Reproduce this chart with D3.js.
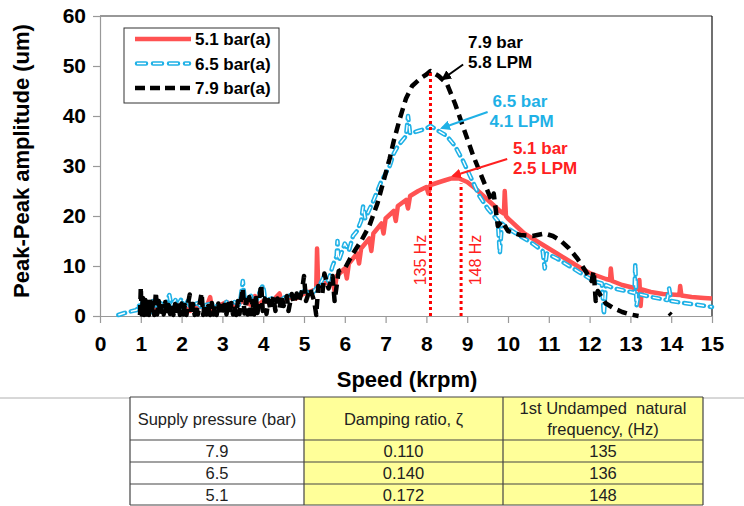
<!DOCTYPE html>
<html>
<head>
<meta charset="utf-8">
<script src="https://cdn.jsdelivr.net/npm/d3@7"></script>
<style>
  body { margin: 0; background: #fff; }
  svg { display: block; font-family: Arial, "Liberation Sans", sans-serif; }
</style>
</head>
<body>
<div class="chart"></div>
<script>
// speed (krpm), peak-peak amplitude (um)
var red51 = [[1.0,0.5],[1.05,3.2],[1.1,1.0],[1.2,2.5],[1.3,0.8],[1.4,2.8],[1.5,1.2],[1.6,2.0],[1.8,1.0],[2.0,2.2],[2.2,1.0],[2.4,2.0],[2.6,1.5],[2.7,3.8],[2.75,1.2],[2.9,2.0],[3.1,2.8],[3.3,2.0],[3.5,3.0],[3.7,2.2],[3.8,4.0],[3.85,2.0],[4.0,3.0],[4.2,2.8],[4.4,4.5],[4.45,2.8],[4.6,3.8],[4.8,3.5],[5.0,4.5],[5.2,5.0],[5.3,5.5],[5.32,13.5],[5.35,5.5],[5.5,6.5],[5.7,7.0],[5.75,5.0],[5.8,8.0],[6.0,9.5],[6.05,7.5],[6.1,10.5],[6.3,12.5],[6.35,10.5],[6.4,13.5],[6.6,15.5],[6.65,13.0],[6.7,16.5],[6.9,18.5],[6.95,16.5],[7.0,19.5],[7.2,21.0],[7.25,19.0],[7.3,22.0],[7.5,23.2],[7.55,21.5],[7.6,24.0],[7.8,25.0],[8.0,25.8],[8.05,24.5],[8.1,26.2],[8.4,27.0],[8.6,27.5],[8.8,27.5],[9.0,26.8],[9.2,25.5],[9.4,24.0],[9.6,22.5],[9.8,21.0],[9.9,20.5],[9.92,25.0],[9.95,20.0],[10.0,19.5],[10.2,18.0],[10.4,16.5],[10.6,15.5],[10.8,14.5],[11.0,13.5],[11.2,12.5],[11.4,11.5],[11.6,10.5],[11.8,9.5],[12.0,8.6],[12.2,8.0],[12.4,7.4],[12.5,7.2],[12.52,9.5],[12.55,7.0],[12.8,6.2],[13.0,5.8],[13.2,5.4],[13.22,7.2],[13.25,2.0],[13.28,5.3],[13.5,4.8],[13.8,4.4],[14.0,4.3],[14.2,4.2],[14.22,6.0],[14.25,4.1],[14.5,3.8],[14.8,3.6],[15.0,3.5]];

var blue65 = [[0.45,0.2],[0.6,0.6],[0.75,0.9],[0.9,1.2],[0.95,2.3],[1.0,1.0],[1.05,3.2],[1.1,1.2],[1.2,2.4],[1.25,0.8],[1.3,3.0],[1.4,1.5],[1.5,2.5],[1.6,1.2],[1.65,3.4],[1.7,4.2],[1.75,2.0],[1.85,3.2],[1.9,2.0],[2.0,3.5],[2.05,1.5],[2.15,3.0],[2.2,2.0],[2.4,2.6],[2.5,1.6],[2.6,2.2],[2.8,2.6],[2.9,1.5],[3.0,2.0],[3.1,2.8],[3.2,1.8],[3.3,2.8],[3.4,2.2],[3.45,3.8],[3.5,7.0],[3.55,3.0],[3.7,4.0],[3.8,2.5],[3.95,5.5],[4.0,6.2],[4.05,3.0],[4.2,3.5],[4.4,3.0],[4.6,4.2],[4.8,3.8],[5.0,5.0],[5.2,4.5],[5.4,6.5],[5.5,8.0],[5.6,7.0],[5.7,10.0],[5.8,12.0],[5.82,15.0],[5.85,11.0],[6.0,14.5],[6.1,13.0],[6.2,16.0],[6.3,17.0],[6.4,19.0],[6.45,22.0],[6.5,19.5],[6.7,23.0],[6.9,27.0],[7.0,28.5],[7.1,30.0],[7.2,32.5],[7.3,34.0],[7.4,35.0],[7.5,36.0],[7.55,40.0],[7.6,36.5],[7.8,37.0],[8.0,37.5],[8.1,38.0],[8.3,37.0],[8.5,36.0],[8.7,34.0],[8.9,31.0],[9.1,27.5],[9.3,24.0],[9.5,21.5],[9.75,19.0],[9.8,12.5],[9.85,18.5],[10.0,17.5],[10.3,16.0],[10.6,14.5],[10.85,13.0],[10.9,9.5],[10.95,12.5],[11.2,11.5],[11.5,10.0],[11.8,8.5],[12.1,7.0],[12.3,6.5],[12.35,0.2],[12.4,6.2],[12.6,5.5],[12.9,5.0],[13.1,4.6],[13.12,10.5],[13.15,2.0],[13.2,4.4],[13.5,3.8],[13.9,3.2],[13.95,5.5],[14.0,3.0],[14.3,2.6],[14.6,2.3],[15.0,1.8]];

var black79 = [[0.98,0.2],[1.0,5.8],[1.02,0.3],[1.05,3.6],[1.08,0.2],[1.11,3.2],[1.14,0.3],[1.17,2.8],[1.2,0.2],[1.23,3.3],[1.26,0.4],[1.3,2.6],[1.33,0.2],[1.37,4.8],[1.4,0.3],[1.44,3.0],[1.48,0.2],[1.52,2.4],[1.56,0.3],[1.6,2.8],[1.64,0.2],[1.68,2.2],[1.72,0.4],[1.76,2.6],[1.8,0.2],[1.84,2.4],[1.88,0.3],[1.92,2.9],[1.96,0.2],[2.0,2.5],[2.04,0.3],[2.08,2.2],[2.12,0.2],[2.16,2.6],[2.2,4.3],[2.24,0.3],[2.28,2.4],[2.32,0.2],[2.36,2.2],[2.4,0.3],[2.45,2.8],[2.49,4.6],[2.53,0.2],[2.57,2.4],[2.61,0.3],[2.65,2.0],[2.7,0.2],[2.74,2.6],[2.78,0.3],[2.82,2.2],[2.86,0.2],[2.9,2.5],[2.94,0.3],[2.98,2.0],[3.02,0.2],[3.06,2.8],[3.1,0.3],[3.14,2.4],[3.18,0.2],[3.22,2.6],[3.26,0.3],[3.3,2.2],[3.34,0.2],[3.38,3.0],[3.42,0.4],[3.46,3.4],[3.5,5.6],[3.54,0.5],[3.58,3.2],[3.62,0.3],[3.66,3.8],[3.7,0.4],[3.74,3.0],[3.78,0.3],[3.82,3.6],[3.86,0.6],[3.9,3.2],[3.95,6.3],[3.99,1.0],[4.04,3.5],[4.08,0.4],[4.13,3.2],[4.18,1.2],[4.25,3.8],[4.3,1.0],[4.35,3.5],[4.4,1.5],[4.45,4.2],[4.5,2.0],[4.58,4.0],[4.62,1.0],[4.7,4.4],[4.75,2.5],[4.82,4.5],[4.88,3.0],[4.95,5.0],[5.0,8.0],[5.05,3.0],[5.15,5.5],[5.25,3.0],[5.3,0.2],[5.35,6.0],[5.45,4.5],[5.5,8.5],[5.6,5.5],[5.7,8.0],[5.75,3.0],[5.85,9.0],[6.0,9.5],[6.2,12.5],[6.4,15.0],[6.6,18.0],[6.8,22.5],[6.95,27.0],[7.1,31.5],[7.2,35.0],[7.35,39.5],[7.5,43.5],[7.65,46.0],[7.85,47.5],[8.0,48.3],[8.1,49.0],[8.3,48.0],[8.5,46.5],[8.7,42.5],[8.85,39.0],[9.0,35.5],[9.15,32.0],[9.3,29.0],[9.45,26.0],[9.6,23.0],[9.65,24.5],[9.75,18.0],[9.85,19.0],[10.0,17.0],[10.3,16.2],[10.6,16.0],[10.9,16.5],[11.1,16.0],[11.3,15.0],[11.5,13.5],[11.7,11.5],[11.9,9.0],[12.05,7.0],[12.1,9.0],[12.15,3.0],[12.2,5.0],[12.4,2.5],[12.6,1.5],[12.8,0.8],[13.0,0.3],[13.2,0.0],[13.6,null],[13.95,0.6],[14.0,0.2]];

var xTicks = d3.range(0, 16, 1);
var yTicks = [0, 10, 20, 30, 40, 50, 60];
var legendNames = ["5.1 bar(a)", "6.5 bar(a)", "7.9 bar(a)"];

// natural frequency markers: speed, top of the dotted line, label
var freqLines = [[8.1, 48.8, "135 Hz"], [8.85, 26.5, "148 Hz"]];

// annotation text: series, lines, text anchor (data), arrow from, arrow to
var notes = [
  {color: "#000000", lines: ["7.9 bar", "5.8 LPM"], at: [9.02, 53.6], from: [8.9, 50.3], to: [8.4, 47.4]},
  {color: "#1fb1e6", lines: ["6.5 bar", "4.1 LPM"], at: [9.62, 41.8], from: [9.5, 40.8], to: [8.38, 37.6]},
  {color: "#ff2020", lines: ["5.1 bar", "2.5 LPM"], at: [10.12, 32.4], from: [9.98, 31.4], to: [8.65, 28.0]}
];

// table under the chart
var tableHeader = ["Supply pressure (bar)", "Damping ratio, \u03b6", "1st Undamped  natural|frequency, (Hz)"];
var supplyPressure = ["7.9", "6.5", "5.1"];
var dampingRatio = ["0.110", "0.140", "0.172"];
var naturalFreq = ["135", "136", "148"];

var svgWidth = 744, svgHeight = 506;
var plot = {left: 100, right: 712, top: 16, bottom: 316};

var svg = d3.select(".chart").append("svg")
  .attr("width", svgWidth).attr("height", svgHeight);

var x = d3.scaleLinear().domain([0, 15]).range([plot.left, plot.right]);
var y = d3.scaleLinear().domain([0, 60]).range([plot.bottom, plot.top]);

// frame top/right
svg.append("line").attr("x1", plot.left).attr("x2", plot.right)
  .attr("y1", plot.top).attr("y2", plot.top).attr("stroke", "#333").attr("stroke-width", 1.2);
svg.append("line").attr("x1", plot.right).attr("x2", plot.right)
  .attr("y1", plot.top).attr("y2", plot.bottom).attr("stroke", "#111").attr("stroke-width", 1.2);

// axes
var leftAxis = svg.append("g").attr("transform", "translate(" + plot.left + ",0)")
  .call(d3.axisLeft(y).tickValues(yTicks).tickSize(7).tickPadding(7).tickSizeOuter(0));
var bottomAxis = svg.append("g").attr("transform", "translate(0," + plot.bottom + ")")
  .call(d3.axisBottom(x).tickValues(xTicks).tickSize(7).tickPadding(13).tickSizeOuter(0));

[leftAxis, bottomAxis].forEach(function(g) {
  g.selectAll("path, line").attr("stroke", "#999").attr("stroke-width", 1.2);
  g.selectAll("text").attr("fill", "#000").style("font-size", "21px").style("font-weight", "bold")
    .style("font-family", "Arial, 'Liberation Sans', sans-serif");
});

// axis titles
svg.append("text")
  .attr("transform", "translate(29,161) rotate(-90)")
  .attr("text-anchor", "middle").style("font-size", "22px").style("font-weight", "bold")
  .text("Peak-Peak amplitude (um)");
svg.append("text")
  .attr("x", (plot.left + plot.right) / 2 + 1).attr("y", 387)
  .attr("text-anchor", "middle").style("font-size", "22px").style("font-weight", "bold")
  .text("Speed (krpm)");

// curves
var line = d3.line()
  .defined(function(d) { return d[1] !== null; })
  .x(function(d) { return x(d[0]); })
  .y(function(d) { return y(d[1]); });

var curves = svg.append("g");
curves.append("path").datum(red51).attr("d", line)
  .attr("fill", "none").attr("stroke", "#ff5252").attr("stroke-width", 4.5)
  .attr("stroke-linejoin", "round");

curves.append("path").datum(blue65).attr("d", line)
  .attr("fill", "none").attr("stroke", "#1fb1e6").attr("stroke-width", 4.5)
  .attr("stroke-dasharray", "7,6").attr("stroke-linecap", "round").attr("stroke-linejoin", "round");
curves.append("path").datum(blue65).attr("d", line)
  .attr("fill", "none").attr("stroke", "#ffffff").attr("stroke-width", 1.4)
  .attr("stroke-dasharray", "7,6").attr("stroke-linecap", "butt").attr("stroke-linejoin", "round");

curves.append("path").datum(black79).attr("d", line)
  .attr("fill", "none").attr("stroke", "#000").attr("stroke-width", 4.5)
  .attr("stroke-dasharray", "10,6").attr("stroke-linejoin", "round");

// natural frequency markers
freqLines.forEach(function(f, i) {
  svg.append("line")
    .attr("x1", x(f[0])).attr("x2", x(f[0]))
    .attr("y1", y(0)).attr("y2", y(f[1]))
    .attr("stroke", "#ff0000").attr("stroke-width", 3).attr("stroke-dasharray", "3,3");
  var lx = i === 0 ? x(f[0]) - 4 : x(f[0]) + 20;
  svg.append("text")
    .attr("transform", "translate(" + lx + "," + y(11.2) + ") rotate(-90)")
    .attr("text-anchor", "middle").attr("fill", "#ff2020").style("font-size", "16px")
    .text(f[2]);
});

// arrows and annotation text
var defs = svg.append("defs");
notes.forEach(function(n, i) {
  defs.append("marker").attr("id", "arrow" + i)
    .attr("viewBox", "0 0 10 10").attr("refX", 8).attr("refY", 5)
    .attr("markerWidth", 5).attr("markerHeight", 5).attr("orient", "auto")
    .append("path").attr("d", "M0,0 L10,5 L0,10 z").attr("fill", n.color);
  svg.append("line")
    .attr("x1", x(n.from[0])).attr("y1", y(n.from[1]))
    .attr("x2", x(n.to[0])).attr("y2", y(n.to[1]))
    .attr("stroke", n.color).attr("stroke-width", 2)
    .attr("marker-end", "url(#arrow" + i + ")");
  n.lines.forEach(function(t, j) {
    svg.append("text")
      .attr("x", x(n.at[0]) + (j === 1 && i === 1 ? -3 : 0))
      .attr("y", y(n.at[1]) + j * 20)
      .attr("fill", n.color).style("font-size", "17px").style("font-weight", "bold")
      .text(t);
  });
});

// legend
var legend = svg.append("g");
legend.append("rect").attr("x", 124).attr("y", 28).attr("width", 155).attr("height", 75)
  .attr("fill", "#fff").attr("stroke", "#333").attr("stroke-width", 1);
var styles = [
  {stroke: "#ff5252", dash: null},
  {stroke: "#1fb1e6", dash: "9,7"},
  {stroke: "#000", dash: "10,5"}
];
legendNames.forEach(function(name, i) {
  var ly = 39 + i * 24.5;
  var l = legend.append("line").attr("x1", 135).attr("x2", 191).attr("y1", ly).attr("y2", ly)
    .attr("stroke", styles[i].stroke).attr("stroke-width", 4.5);
  if (styles[i].dash) l.attr("stroke-dasharray", styles[i].dash);
  if (i === 1) {
    l.attr("stroke-linecap", "round").attr("x1", 137).attr("x2", 189);
    legend.append("line").attr("x1", 137).attr("x2", 189).attr("y1", ly).attr("y2", ly)
      .attr("stroke", "#fff").attr("stroke-width", 1.4).attr("stroke-dasharray", "9,7");
  }
  legend.append("text").attr("x", 195).attr("y", ly + 6)
    .style("font-size", "17px").style("font-weight", "bold").text(name);
});

// separator and table
svg.append("line").attr("x1", 0).attr("x2", svgWidth).attr("y1", 398).attr("y2", 398)
  .attr("stroke", "#b0b0b0").attr("stroke-width", 1);

var colX = [130, 304, 503, 703];
var rowY = [397, 440, 462, 484, 505];
var table = svg.append("g").style("font-size", "16.5px");
for (var c = 0; c < 3; c++) {
  table.append("rect").attr("x", colX[c]).attr("y", rowY[0])
    .attr("width", colX[c + 1] - colX[c]).attr("height", rowY[4] - rowY[0])
    .attr("fill", c === 0 ? "#fff" : "#ffff99");
}
rowY.forEach(function(ry) {
  table.append("line").attr("x1", colX[0]).attr("x2", colX[3]).attr("y1", ry).attr("y2", ry)
    .attr("stroke", "#444").attr("stroke-width", 1.2);
});
colX.forEach(function(cx) {
  table.append("line").attr("x1", cx).attr("x2", cx).attr("y1", rowY[0]).attr("y2", rowY[4])
    .attr("stroke", "#444").attr("stroke-width", 1.2);
});
tableHeader.forEach(function(h, c) {
  var parts = h.split("|");
  var mid = (colX[c] + colX[c + 1]) / 2;
  parts.forEach(function(p, j) {
    var by = parts.length === 1 ? 425 : 414 + j * 21;
    table.append("text").attr("x", mid).attr("y", by).attr("text-anchor", "middle")
      .attr("fill", "#222").style("white-space", "pre").text(p);
  });
});
[supplyPressure, dampingRatio, naturalFreq].forEach(function(col, c) {
  var mid = (colX[c] + colX[c + 1]) / 2;
  col.forEach(function(v, r) {
    table.append("text").attr("x", mid).attr("y", rowY[r + 1] + 17).attr("text-anchor", "middle")
      .attr("fill", "#222").text(v);
  });
});
</script>
</body>
</html>
